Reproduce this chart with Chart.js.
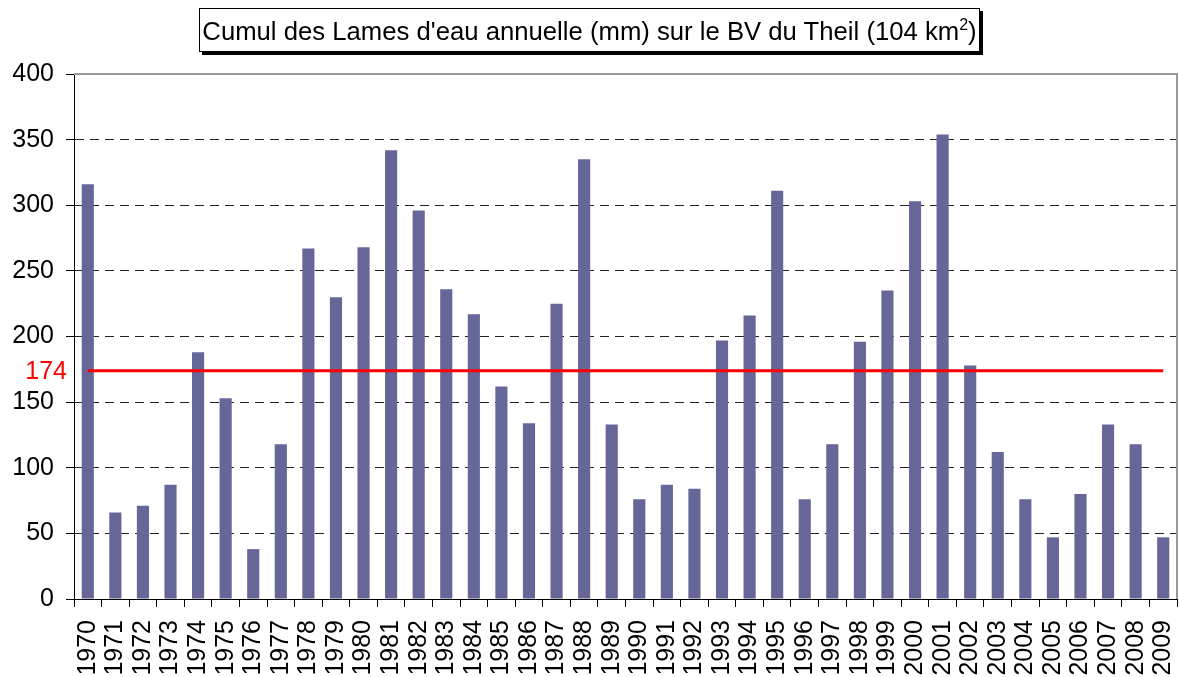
<!DOCTYPE html>
<html>
<head>
<meta charset="utf-8">
<script src="https://cdn.jsdelivr.net/npm/chart.js@4"></script>
<style>
  html, body { margin: 0; padding: 0; background: #fff; }
  #wrap { position: relative; width: 1179px; height: 677px; }
  #title {
    position: absolute; left: 199px; top: 8px; width: 779px; height: 42px;
    border: 1px solid #000; background: #fff; box-shadow: 3px 3px 0 #000;
    font-family: "Liberation Sans", Arial, sans-serif; font-size: 25.7px;
    line-height: 44px; text-align: center; white-space: nowrap; z-index: 2;
  }
  #title sup { font-size: 16px; line-height: 0; }
</style>
</head>
<body>
<div id="wrap">
  <div id="title">Cumul des Lames d'eau annuelle (mm) sur le BV du Theil (104 km<sup>2</sup>)</div>
  <canvas id="myChart" width="1179" height="677"></canvas>
</div>
<script>
// années
var years = ['1970','1971','1972','1973','1974','1975','1976','1977','1978','1979',
             '1980','1981','1982','1983','1984','1985','1986','1987','1988','1989',
             '1990','1991','1992','1993','1994','1995','1996','1997','1998','1999',
             '2000','2001','2002','2003','2004','2005','2006','2007','2008','2009'];

// lame d'eau annuelle (mm)
var lames = [316, 66, 71, 87, 188, 153, 38, 118, 267, 230,
             268, 342, 296, 236, 217, 162, 134, 225, 335, 133,
             76, 87, 84, 197, 216, 311, 76, 118, 196, 235,
             303, 354, 178, 112, 76, 47, 80, 133, 118, 47];

// moyenne
var moyenne = 174;
var yTicks = [0, 50, 100, 150, 200, 250, 300, 350, 400];

var FONT = '"Liberation Sans", Arial, sans-serif';

// cadre gris + libellé de la moyenne
var extras = {
  id: 'extras',
  beforeDatasetsDraw: function(chart) {
    var a = chart.chartArea, ctx = chart.ctx;
    ctx.save();
    ctx.strokeStyle = '#999';
    ctx.lineWidth = 2;
    ctx.beginPath();
    ctx.moveTo(a.left, a.top);
    ctx.lineTo(a.right, a.top);
    ctx.lineTo(a.right, a.bottom);
    ctx.stroke();
    ctx.restore();
  },
  afterDraw: function(chart) {
    var ctx = chart.ctx;
    var y = chart.scales.y.getPixelForValue(moyenne);
    ctx.save();
    ctx.fillStyle = '#ff0000';
    ctx.font = '25px ' + FONT;
    ctx.textAlign = 'right';
    ctx.textBaseline = 'middle';
    ctx.fillText(String(moyenne), chart.chartArea.left - 7, y + 1);
    ctx.restore();
  }
};

var ctx = document.getElementById('myChart').getContext('2d');
var chart = new Chart(ctx, {
  type: 'bar',
  data: {
    labels: years,
    datasets: [{
      type: 'line',
      data: years.map(function() { return moyenne; }),
      borderColor: '#ff0000',
      borderWidth: 3,
      pointRadius: 0,
      order: 0
    }, {
      data: lames,
      backgroundColor: '#666699',
      categoryPercentage: 1,
      barPercentage: 0.44,
      order: 1
    }]
  },
  options: {
    responsive: false,
    animation: false,
    layout: { padding: { top: 74, right: 2, left: 0, bottom: 0 } },
    plugins: {
      legend: { display: false },
      tooltip: { enabled: false }
    },
    scales: {
      x: {
        offset: true,
        afterFit: function(s) {
          s.height = 78;
          s.paddingLeft = 0;
          s.paddingRight = 0;
        },
        grid: {
          offset: true,
          drawOnChartArea: false,
          drawTicks: true,
          tickLength: 8,
          tickColor: '#000'
        },
        border: { display: true, color: '#000', width: 1 },
        ticks: {
          minRotation: 90,
          maxRotation: 90,
          autoSkip: false,
          padding: 13,
          color: '#000',
          font: { family: FONT, size: 25 }
        }
      },
      y: {
        min: 0,
        max: 400,
        afterFit: function(s) { s.width = 74; },
        afterBuildTicks: function(s) {
          s.ticks = yTicks.map(function(v) { return { value: v }; });
        },
        grid: {
          color: function(c) {
            return (c.tick && (c.tick.value === 0 || c.tick.value === 400)) ? 'rgba(0,0,0,0)' : '#222';
          },
          tickBorderDash: [],
          tickLength: 8,
          tickColor: '#000'
        },
        border: { display: true, color: '#000', width: 1, dash: [9, 6] },
        ticks: {
          padding: 12,
          color: '#000',
          font: { family: FONT, size: 25 }
        }
      }
    }
  },
  plugins: [extras]
});
</script>
</body>
</html>
